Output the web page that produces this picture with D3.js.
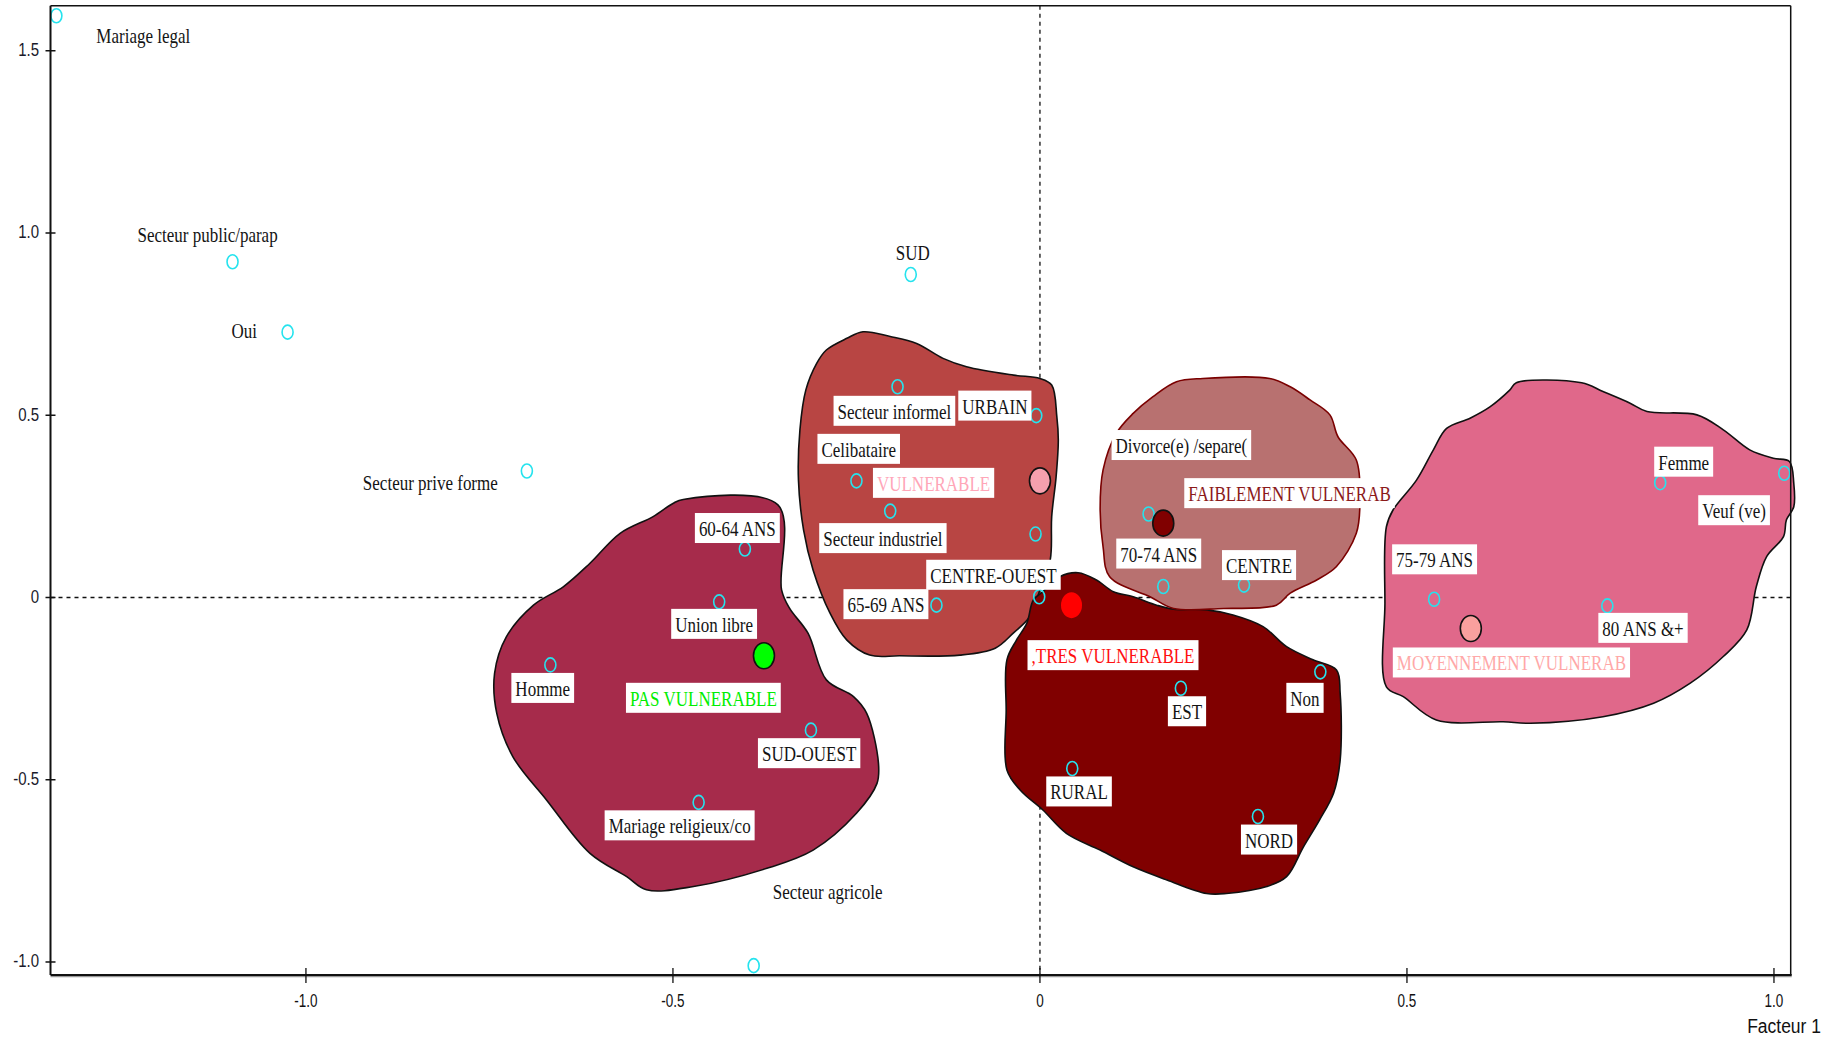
<!DOCTYPE html>
<html>
<head>
<meta charset="utf-8">
<script src="https://cdn.jsdelivr.net/npm/d3@7"></script>
<style>
  html, body { margin: 0; padding: 0; background: #fff; }
  svg { display: block; }
</style>
</head>
<body>
<svg id="chart" width="1833" height="1043"></svg>
<script>
// ---- Modalités (coordonnées factorielles, axes 1 et 2) ----
const modalites = [
  "Mariage legal", "Secteur public/parap", "Oui", "Secteur prive forme", "SUD", "Secteur agricole",
  "60-64 ANS", "Union libre", "Homme", "SUD-OUEST", "Mariage religieux/co",
  "Secteur informel", "URBAIN", "Celibataire", "Secteur industriel", "", "CENTRE-OUEST", "65-69 ANS",
  "EST", "Non", "RURAL", "NORD",
  "Divorce(e) /separe(", "70-74 ANS", "CENTRE",
  "Femme", "Veuf (ve)", "75-79 ANS", "80 ANS &+"
];
const facteur1 = [
  -1.340, -1.100, -1.025, -0.699, -0.176, -0.390,
  -0.402, -0.437, -0.667, -0.312, -0.465,
  -0.194, -0.005, -0.250, -0.204, -0.006, -0.001, -0.141,
  0.192, 0.382, 0.044, 0.297,
  0.148, 0.168, 0.278,
  0.845, 1.014, 0.537, 0.773
];
const facteur2 = [
  1.596, 0.921, 0.728, 0.347, 0.886, -1.010,
  0.133, -0.012, -0.185, -0.364, -0.562,
  0.578, 0.499, 0.320, 0.237, 0.174, 0.002, -0.021,
  -0.249, -0.204, -0.469, -0.601,
  0.229, 0.030, 0.034,
  0.315, 0.341, -0.005, -0.023
];

// ---- Classes de vulnérabilité (barycentres) ----
const classes = ["PAS VULNERABLE", "VULNERABLE", ",TRES VULNERABLE", "FAIBLEMENT VULNERAB", "MOYENNEMENT VULNERAB"];
const classeF1 = [-0.376, 0.000, 0.043, 0.168, 0.587];
const classeF2 = [-0.160, 0.320, -0.021, 0.204, -0.085];

// ---- Contours des zones de classes (plan factoriel) ----
const zonePas = [[-0.486,0.269],[-0.357,0.254],[-0.352,0.021],[-0.341,-0.030],[-0.316,-0.098],[-0.291,-0.226],
  [-0.254,-0.272],[-0.236,-0.318],[-0.220,-0.455],[-0.222,-0.510],[-0.250,-0.592],[-0.309,-0.693],[-0.372,-0.743],
  [-0.472,-0.793],[-0.536,-0.802],[-0.563,-0.766],[-0.613,-0.702],[-0.672,-0.556],[-0.718,-0.437],[-0.740,-0.318],
  [-0.743,-0.208],[-0.727,-0.108],[-0.690,-0.021],[-0.649,0.030],[-0.613,0.094],[-0.572,0.176],[-0.527,0.222],[-0.500,0.258]];
const zoneVuln = [[-0.263,0.711],[-0.241,0.729],[-0.204,0.716],[-0.168,0.697],[-0.132,0.656],[-0.100,0.633],
  [-0.036,0.610],[0.000,0.601],[0.016,0.583],[0.023,0.496],[0.025,0.432],[0.022,0.331],[0.016,0.222],[0.014,0.103],
  [0.000,0.021],[-0.014,-0.053],[-0.036,-0.097],[-0.061,-0.139],[-0.109,-0.158],[-0.191,-0.160],[-0.232,-0.158],
  [-0.263,-0.117],[-0.286,-0.043],[-0.309,0.075],[-0.322,0.185],[-0.329,0.322],[-0.327,0.460],[-0.319,0.569],
  [-0.304,0.643],[-0.291,0.679]];
const zoneTres = [[0.052,0.068],[0.077,0.048],[0.100,0.016],[0.127,0.002],[0.159,-0.021],[0.182,-0.032],
  [0.227,-0.034],[0.263,-0.048],[0.304,-0.080],[0.336,-0.135],[0.372,-0.171],[0.404,-0.199],[0.409,-0.263],
  [0.409,-0.446],[0.400,-0.537],[0.381,-0.610],[0.359,-0.684],[0.336,-0.766],[0.309,-0.793],[0.254,-0.812],
  [0.227,-0.812],[0.173,-0.775],[0.127,-0.739],[0.082,-0.693],[0.036,-0.647],[0.004,-0.583],[-0.027,-0.528],
  [-0.045,-0.473],[-0.046,-0.309],[-0.045,-0.171],[-0.032,-0.117],[-0.018,-0.071],[-0.009,-0.007],[0.004,0.016],
  [0.027,0.057]];
const zoneFaible = [[0.186,0.592],[0.222,0.601],[0.313,0.601],[0.341,0.578],[0.368,0.542],[0.395,0.501],
  [0.406,0.441],[0.431,0.377],[0.436,0.267],[0.431,0.176],[0.404,0.085],[0.377,0.048],[0.341,0.012],
  [0.322,-0.021],[0.250,-0.030],[0.182,-0.030],[0.150,0.002],[0.095,0.057],[0.086,0.139],[0.082,0.240],
  [0.086,0.350],[0.104,0.450],[0.127,0.505],[0.154,0.551]];
const zoneMoyen = [[0.649,0.589],[0.738,0.589],[0.767,0.565],[0.804,0.533],[0.827,0.510],[0.895,0.501],
  [0.931,0.460],[0.967,0.405],[0.999,0.382],[1.021,0.373],[1.027,0.313],[1.027,0.249],[1.017,0.213],
  [1.013,0.167],[0.990,0.112],[0.976,0.030],[0.963,-0.089],[0.931,-0.162],[0.886,-0.235],[0.836,-0.290],
  [0.767,-0.327],[0.668,-0.345],[0.631,-0.341],[0.540,-0.336],[0.495,-0.272],[0.472,-0.245],[0.470,-0.016],
  [0.472,0.194],[0.481,0.240],[0.513,0.322],[0.536,0.405],[0.554,0.464],[0.586,0.492],[0.613,0.523],[0.640,0.569]];

// ---- Graduations ----
const xTicks = [-1.0, -0.5, 0, 0.5, 1.0];
const xTickLabels = ["-1.0", "-0.5", "0", "0.5", "1.0"];
const yTicks = [-1.0, -0.5, 0, 0.5, 1.0, 1.5];
const yTickLabels = ["-1.0", "-0.5", "0", "0.5", "1.0", "1.5"];

// ---- Mise en forme ----
const zones = [zonePas, zoneVuln, zoneTres, zoneFaible, zoneMoyen];
const zoneFill = ["#A62B4B", "#B84543", "#800000", "#B87170", "#E0688A"];
const zoneStroke = ["#111", "#111", "#111", "#7a0000", "#111"];
const classeMarker = ["#00FF00", "#F6A0AE", "#FF0000", "#800000", "#F9A09E"];
const classeMarkerStroke = ["#111", "#111", "none", "#111", "#111"];
const classeText = ["#00EE00", "#FFA6B8", "#FF1010", "#8B1A1A", "#FFA8A8"];

// décalage du libellé (début du texte, ligne de base) par rapport au point, en pixels
const labelOffset = {
  "Mariage legal": [40, 27], "Secteur public/parap": [-95, -20], "Oui": [-56, 6],
  "Secteur prive forme": [-164, 19], "SUD": [-15, -15], "Secteur agricole": [19, -67],
  "60-64 ANS": [-46, -13], "Union libre": [-44, 30], "Homme": [-35, 31], "SUD-OUEST": [-49, 31],
  "Mariage religieux/co": [-90, 31], "Secteur informel": [-60, 32], "URBAIN": [-74, -2],
  "Celibataire": [-35, -24], "Secteur industriel": [-67, 35], "CENTRE-OUEST": [-109, -14],
  "65-69 ANS": [-89, 7], "EST": [-9, 31], "Non": [-30, 34], "RURAL": [-22, 31], "NORD": [-13, 31],
  "Divorce(e) /separe(": [-33, -61], "70-74 ANS": [-43, -25], "CENTRE": [-18, -12],
  "Femme": [-2, -13], "Veuf (ve)": [-82, 45], "75-79 ANS": [-38, -32], "80 ANS &+": [-5, 30],
  "PAS VULNERABLE": [-134, 50], "VULNERABLE": [-163, 10], ",TRES VULNERABLE": [-40, 58],
  "FAIBLEMENT VULNERAB": [25, -22], "MOYENNEMENT VULNERAB": [-74, 42]
};
const boxedLabels = new Set(modalites.slice(6).concat(classes));

const svg = d3.select("#chart");
const W = 1833, H = 1043;
const plot = { left: 50.5, right: 1790.7, top: 5.7, bottom: 975 };

const x = d3.scaleLinear().domain([-1.348, 1.0228]).range([plot.left, plot.right]);
const y = d3.scaleLinear().domain([-1.0357, 1.6236]).range([plot.bottom, plot.top]);

svg.append("rect").attr("width", W).attr("height", H).attr("fill", "#fff");

// axes de référence en pointillés
svg.append("line")
  .attr("x1", plot.left).attr("x2", plot.right).attr("y1", y(0)).attr("y2", y(0))
  .attr("stroke", "#111").attr("stroke-width", 1.3).attr("stroke-dasharray", "4,4");
svg.append("line")
  .attr("x1", x(0)).attr("x2", x(0)).attr("y1", plot.top).attr("y2", plot.bottom)
  .attr("stroke", "#111").attr("stroke-width", 1.3).attr("stroke-dasharray", "4,4");

// zones des classes
const zoneLine = d3.line().x(d => x(d[0])).y(d => y(d[1])).curve(d3.curveCatmullRomClosed.alpha(0.5));
svg.append("g").selectAll("path").data(zones).join("path")
  .attr("d", d => zoneLine(d))
  .attr("fill", (d, i) => zoneFill[i])
  .attr("stroke", (d, i) => zoneStroke[i])
  .attr("stroke-width", 1.6);

// modalités actives
svg.append("g").selectAll("ellipse").data(modalites).join("ellipse")
  .attr("cx", (d, i) => x(facteur1[i]))
  .attr("cy", (d, i) => y(facteur2[i]))
  .attr("rx", 5.5).attr("ry", 7)
  .attr("fill", "none").attr("stroke", "#25E3EE").attr("stroke-width", 1.6);

// barycentres des classes
svg.append("g").selectAll("ellipse").data(classes).join("ellipse")
  .attr("cx", (d, i) => x(classeF1[i]))
  .attr("cy", (d, i) => y(classeF2[i]))
  .attr("rx", 10.5).attr("ry", 13)
  .attr("fill", (d, i) => classeMarker[i])
  .attr("stroke", (d, i) => classeMarkerStroke[i])
  .attr("stroke-width", 1.6);

// libellés
const labels = modalites.map((m, i) => ({ text: m, px: x(facteur1[i]), py: y(facteur2[i]), color: "#141414" }))
  .concat(classes.map((c, i) => ({ text: c, px: x(classeF1[i]), py: y(classeF2[i]), color: classeText[i] })))
  .filter(d => d.text !== "");

const lab = svg.append("g").selectAll("g").data(labels).join("g")
  .attr("transform", d => {
    const o = labelOffset[d.text];
    return `translate(${d.px + o[0]},${d.py + o[1]})`;
  });
const rects = lab.append("rect").attr("fill", "#fff");
const texts = lab.append("text")
  .attr("transform", "scale(1,1.2)")
  .attr("font-family", "'Liberation Serif', 'Times New Roman', serif")
  .attr("font-size", 17)
  .attr("fill", d => d.color)
  .text(d => d.text);
texts.each(function (d) { d.w = this.getComputedTextLength(); });
rects
  .attr("x", -4).attr("y", -23).attr("height", 30)
  .attr("width", d => d.w + 8)
  .attr("opacity", d => boxedLabels.has(d.text) ? 1 : 0);

// cadre
const frame = svg.append("g").attr("fill", "none").attr("stroke", "#111");
frame.append("line").attr("x1", plot.left).attr("x2", plot.right).attr("y1", plot.top).attr("y2", plot.top).attr("stroke-width", 1.5);
frame.append("line").attr("x1", plot.right).attr("x2", plot.right).attr("y1", plot.top).attr("y2", plot.bottom).attr("stroke-width", 1.5);
frame.append("line").attr("x1", plot.left).attr("x2", plot.left).attr("y1", plot.top).attr("y2", plot.bottom).attr("stroke-width", 2);
frame.append("line").attr("x1", plot.left).attr("x2", plot.right + 1).attr("y1", plot.bottom + 1.5).attr("y2", plot.bottom + 1.5).attr("stroke", "#999").attr("stroke-width", 1.5);
frame.append("line").attr("x1", plot.left).attr("x2", plot.right + 1).attr("y1", plot.bottom).attr("y2", plot.bottom).attr("stroke-width", 2);

// graduations axe vertical
const yAxis = svg.append("g");
yAxis.selectAll("line").data(yTicks).join("line")
  .attr("x1", plot.left - 5).attr("x2", plot.left + 5)
  .attr("y1", d => y(d)).attr("y2", d => y(d))
  .attr("stroke", "#111").attr("stroke-width", 1.5);
yAxis.selectAll("text").data(yTicks).join("text")
  .attr("transform", d => `translate(39,${y(d) + 5.5}) scale(1,1.25)`)
  .attr("text-anchor", "end")
  .attr("font-family", "'Liberation Sans', Arial, sans-serif")
  .attr("font-size", 15)
  .attr("fill", "#1a1a2a")
  .text((d, i) => yTickLabels[i]);

// graduations axe horizontal
const xAxis = svg.append("g");
xAxis.selectAll("line").data(xTicks).join("line")
  .attr("x1", d => x(d)).attr("x2", d => x(d))
  .attr("y1", plot.bottom - 7).attr("y2", plot.bottom + 8)
  .attr("stroke", "#111").attr("stroke-width", 1.3);
xAxis.selectAll("text").data(xTicks).join("text")
  .attr("transform", d => `translate(${x(d)},1006.5) scale(0.9,1.25)`)
  .attr("text-anchor", "middle")
  .attr("font-family", "'Liberation Sans', Arial, sans-serif")
  .attr("font-size", 15)
  .attr("fill", "#111")
  .text((d, i) => xTickLabels[i]);

svg.append("text")
  .attr("transform", "translate(1821,1033) scale(1,1.2)")
  .attr("text-anchor", "end")
  .attr("font-family", "'Liberation Sans', Arial, sans-serif")
  .attr("font-size", 17.5)
  .attr("fill", "#111")
  .text("Facteur 1");
</script>
</body>
</html>
